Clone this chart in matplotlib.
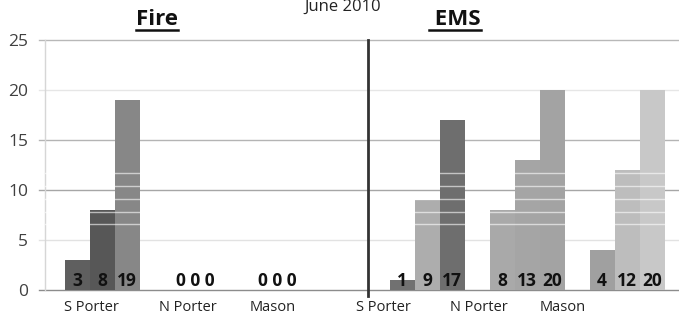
import matplotlib
matplotlib.use("Agg")
import matplotlib.pyplot as plt
from matplotlib.lines import Line2D

# ---------------- data ----------------
categories = ["S Porter", "N Porter", "Mason"]
fire_values = [[3, 8, 19], [0, 0, 0], [0, 0, 0]]
ems_values = [[1, 9, 17], [8, 13, 20], [4, 12, 20]]
y_ticks = [0, 5, 10, 15, 20, 25]
chart_title = "June 2010"
fire_title = "Fire"
ems_title = " EMS"

# ---------------- styling / layout ----------------
fire_colors = [["#5f5f5f", "#575757", "#878787"],
               ["#5f5f5f", "#575757", "#878787"],
               ["#5f5f5f", "#575757", "#878787"]]
ems_colors = [["#717171", "#adadad", "#6e6e6e"],
              ["#a9a9a9", "#a5a5a5", "#a3a3a3"],
              ["#a0a0a0", "#bdbdbd", "#c8c8c8"]]
fire_centers = [0.57, 1.50, 2.32]
ems_centers = [3.82, 4.82, 5.82]
fire_label_pos = [0.465, 1.43, 2.28]
ems_label_pos = [3.38, 4.34, 5.18]
divider_x = 3.23
bar_w = 0.25
grid_colors = {0: "#8c8c8c", 5: "#e2e2e2", 10: "#a6a6a6", 15: "#b4b4b4",
               20: "#e6e6e6", 25: "#b8b8b8"}
artifact_levels = [6.6, 7.85, 9.15, 10.45, 11.75]

FONT = "Open Sans"
W, H = 679, 317
fig = plt.figure(figsize=(W / 100, H / 100), dpi=100)
ax = fig.add_axes([45 / W, 27 / H, 634 / W, 250 / H])
ax.set_xlim(0, 6.34)
ax.set_ylim(0, 25)

# gridlines (extend left as tick marks)
for v in y_ticks:
    ax.plot([-0.06, 6.34], [v, v], color=grid_colors[v], lw=1.0,
            zorder=1, clip_on=False)

LBL = dict(fontsize=12.5, fontweight="bold", family=FONT, color="#111111",
           zorder=5, va="bottom", ha="center")


def draw_group(center, vals, cols):
    offs = [-bar_w, 0, bar_w]
    xs = [center + o for o in offs]
    ax.bar(xs, vals, width=bar_w, color=cols, edgecolor="none", zorder=2)
    if all(v == 0 for v in vals):
        ax.text(center, 0.05, " ".join(str(v) for v in vals), **LBL)
    else:
        for x, v in zip(xs, vals):
            ax.text(x, 0.05, str(v), **LBL)


for c, vals, cols in zip(fire_centers, fire_values, fire_colors):
    draw_group(c, vals, cols)
for c, vals, cols in zip(ems_centers, ems_values, ems_colors):
    draw_group(c, vals, cols)

# faint white rendering streaks across the bars
for lv in artifact_levels:
    ax.axhline(lv, color="white", lw=1.0, alpha=0.6, zorder=3)

# divider
ax.plot([divider_x, divider_x], [-0.6, 25], color="#333333", lw=2.0,
        zorder=4, clip_on=False)

for s in ["top", "right", "bottom"]:
    ax.spines[s].set_visible(False)
ax.spines["left"].set_color("#d6d6d6")
ax.spines["left"].set_linewidth(1.0)
ax.spines["left"].set_zorder(1.5)

ax.set_yticks(y_ticks)
ax.set_yticklabels([str(v) for v in y_ticks], family=FONT, fontsize=12.5,
                   color="#404040")
ax.tick_params(axis="y", length=0, pad=12)

ax.set_xticks(fire_label_pos + ems_label_pos)
ax.set_xticklabels(categories + categories, family=FONT, fontsize=10.5,
                   color="#222222")
ax.tick_params(axis="x", length=0, pad=7)

# titles
fig.text(343 / W, 1 - 11 / H, chart_title, ha="center", va="baseline",
         family=FONT, fontsize=12, color="#222222")
t_fire = fig.text(157 / W, 1 - 25 / H, fire_title, ha="center",
                  va="baseline", family=FONT, fontsize=16, fontweight="bold",
                  color="#111111")
t_ems = fig.text(455 / W, 1 - 25 / H, ems_title, ha="center", va="baseline",
                 family=FONT, fontsize=16, fontweight="bold", color="#111111")

fig.canvas.draw()
r = fig.canvas.get_renderer()
for t in (t_fire, t_ems):
    bb = t.get_window_extent(renderer=r)
    y = (H - 30) / H
    fig.add_artist(Line2D([bb.x0 / W, bb.x1 / W], [y, y],
                          transform=fig.transFigure, color="#111111", lw=1.8))

fig.savefig("out.png", dpi=100)
